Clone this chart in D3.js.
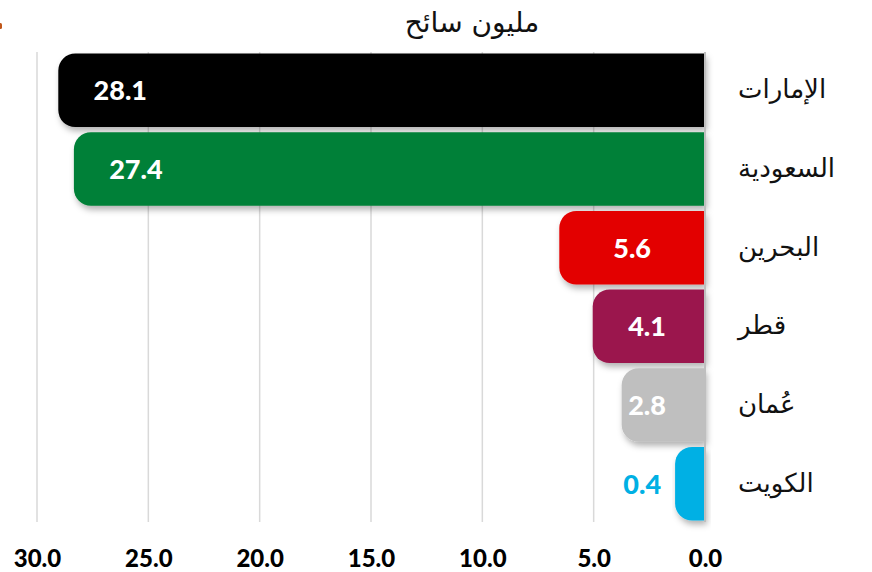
<!DOCTYPE html>
<html>
<head>
<meta charset="utf-8">
<script src="https://cdn.jsdelivr.net/npm/d3@7"></script>
<style>
  html, body { margin: 0; padding: 0; background: #fff; }
  svg { display: block; }
</style>
</head>
<body>
<svg id="chart" width="872" height="572"></svg>
<script>
const categories = ["الإمارات", "السعودية", "البحرين", "قطر", "عُمان", "الكويت"];
const values = [28.1, 27.4, 5.6, 4.1, 2.8, 0.4];
const colors = ["#000000", "#008037", "#e30000", "#9b174d", "#bfbfbf", "#00b0e4"];
const tickValues = [30, 25, 20, 15, 10, 5, 0];
const unitTitle = "مليون سائح";

const data = categories.map((c, i) => ({ name: c, value: values[i], color: colors[i] }));

const svg = d3.select("#chart");
const x = d3.scaleLinear().domain([0, 30]).range([705, 37]);
const y = d3.scaleBand().domain(categories).range([52, 522]).paddingInner(0.065).paddingOuter(0.02);

const defs = svg.append("defs");
const f = defs.append("filter").attr("id", "shadow").attr("x", "-10%").attr("y", "-20%").attr("width", "130%").attr("height", "150%");
f.append("feDropShadow").attr("dx", 2).attr("dy", 4).attr("stdDeviation", 3).attr("flood-color", "#000").attr("flood-opacity", 0.3);

// small orange mark at top-left
svg.append("rect").attr("x", -2).attr("y", 23).attr("width", 4).attr("height", 6).attr("rx", 1.5).attr("fill", "#c0561a");

// gridlines
svg.append("g").selectAll("line").data(tickValues.filter(t => t > 0)).join("line")
  .attr("x1", d => x(d)).attr("x2", d => x(d))
  .attr("y1", 52).attr("y2", 522)
  .attr("stroke", "#d9d9d9").attr("stroke-width", 1.5);

// title
svg.append("text").attr("x", 472).attr("y", 32).attr("text-anchor", "middle")
  .attr("font-family", "DejaVu Sans").attr("font-size", 28).attr("fill", "#111")
  .text(unitTitle);

const extra = 21, r = 17;
const x0 = x(0);
function barPath(d) {
  const left = x(d.value) - extra;
  const top = y(d.name), bot = top + y.bandwidth();
  const rr = Math.min(r, (x0 - left) / 1.2);
  return `M${x0},${top}H${left + rr}A${rr},${rr} 0 0 0 ${left},${top + rr}V${bot - rr}A${rr},${rr} 0 0 0 ${left + rr},${bot}H${x0}Z`;
}

svg.append("g").selectAll("path").data(data).join("path")
  .attr("d", barPath).attr("fill", d => d.color).attr("filter", "url(#shadow)");

// zero line
svg.append("line").attr("x1", x0).attr("x2", x0).attr("y1", 52).attr("y2", 522)
  .attr("stroke", "#bfbfbf").attr("stroke-width", 2);

// value labels
svg.append("g").selectAll("text").data(data).join("text")
  .attr("x", d => {
    const left = x(d.value) - extra;
    const w = x0 - left;
    if (w < 45) return left - 14;
    if (w > 300) return left + 62;
    return Math.min((left + x0) / 2, 647);
  })
  .attr("text-anchor", d => (x0 - (x(d.value) - extra)) < 45 ? "end" : "middle")
  .attr("y", d => y(d.name) + y.bandwidth() / 2 + 10)
  .attr("font-family", "Lato").attr("font-weight", 900).attr("font-size", 27)
  .attr("fill", d => (x0 - (x(d.value) - extra)) < 45 ? d.color : "#fff")
  .text(d => d3.format(".1f")(d.value));

// category labels
svg.append("g").selectAll("text").data(data).join("text")
  .attr("x", 738)
  .attr("y", d => y(d.name) + y.bandwidth() / 2 + 8)
  .attr("text-anchor", "start")
  .attr("font-family", "DejaVu Sans").attr("font-size", 26).attr("fill", "#111")
  .text(d => d.name);

// x axis labels
const axis = svg.append("g").attr("transform", "translate(0,540)")
  .call(d3.axisBottom(x).tickValues(tickValues).tickFormat(d3.format(".1f")).tickSize(0).tickPadding(0));
axis.select(".domain").remove();
axis.selectAll("text").attr("font-family", "Lato").attr("font-weight", 900).attr("font-size", 24)
  .attr("fill", "#000").attr("dy", "0").attr("y", 27);
</script>
</body>
</html>
